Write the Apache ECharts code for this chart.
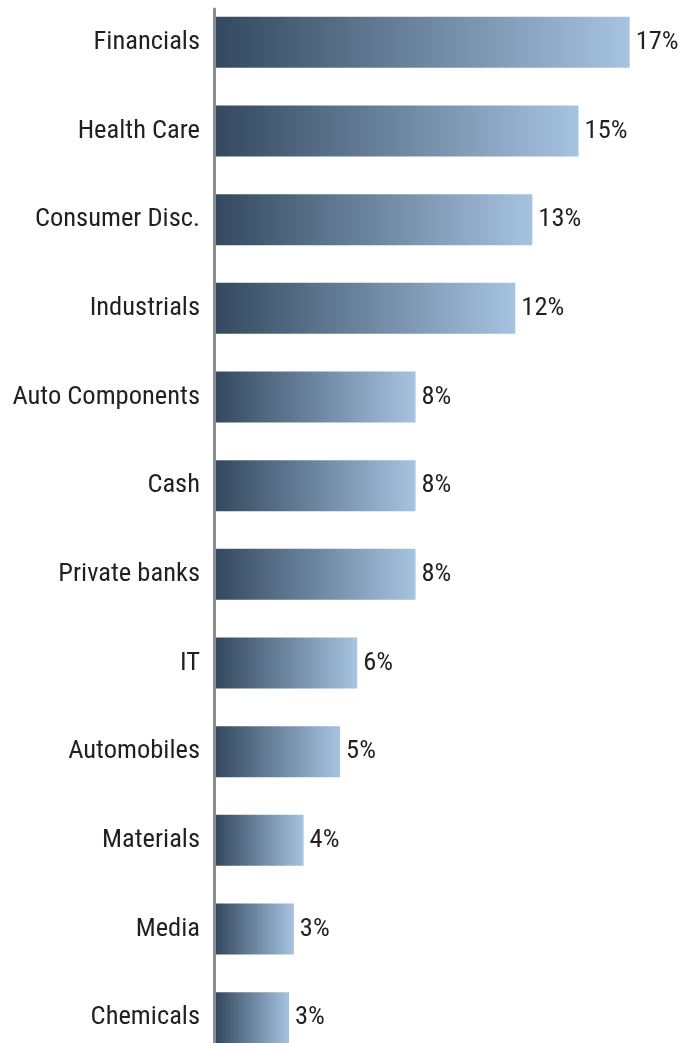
<!DOCTYPE html>
<html>
<head>
<meta charset="utf-8">
<script src="https://cdn.jsdelivr.net/npm/echarts@6/dist/echarts.min.js"></script>
<style>
html,body{margin:0;padding:0;background:#fff;}
#chart{width:688px;height:1043px;}
</style>
</head>
<body>
<div id="chart"></div>
<script>
const categories = ["Financials","Health Care","Consumer Disc.","Industrials","Auto Components","Cash","Private banks","IT","Automobiles","Materials","Media","Chemicals"];
const weights = [17.0, 14.9, 13.0, 12.3, 8.2, 8.2, 8.2, 5.8, 5.1, 3.6, 3.2, 3.0];

const FONT = '"Liberation Sans Narrow", "Roboto Condensed", "DejaVu Sans Condensed", sans-serif';
const chart = echarts.init(document.getElementById('chart'), null, {renderer: 'canvas'});
chart.setOption({
  animation: false,
  backgroundColor: '#ffffff',
  grid: [
    {left: 216, right: 34, top: -2, bottom: -19, containLabel: false, outerBoundsMode: 'none'},
    {left: 214, width: 10, top: 9, bottom: 0, outerBoundsMode: 'none'}
  ],
  xAxis: [
    {type: 'value', gridIndex: 0, min: 0, max: 18, show: false},
    {type: 'value', gridIndex: 1, min: 0, max: 1, show: false}
  ],
  yAxis: [
    {
      type: 'category', gridIndex: 0, data: categories, inverse: true,
      axisLine: {show: false}, axisTick: {show: false}, splitLine: {show: false},
      axisLabel: {margin: 16, color: '#231f20', fontSize: 26.5, fontFamily: FONT, padding: [5, 0, 0, 0]}
    },
    {
      type: 'value', gridIndex: 1, min: 0, max: 1,
      axisLine: {show: true, lineStyle: {color: '#8c8c8c', width: 3}},
      axisTick: {show: false}, axisLabel: {show: false}, splitLine: {show: false}
    }
  ],
  series: [{
    type: 'bar',
    xAxisIndex: 0, yAxisIndex: 0,
    data: weights,
    barWidth: 51,
    itemStyle: {
      color: new echarts.graphic.LinearGradient(0, 0, 1, 0, [
        {offset: 0, color: '#34495f'},
        {offset: 1, color: '#a6c3e1'}
      ])
    },
    label: {
      show: true, position: 'right', distance: 6,
      color: '#231f20', fontSize: 26.5, fontFamily: FONT, padding: [2, 0, 0, 0],
      formatter: p => Math.round(p.value) + '%'
    }
  }]
});
</script>
</body>
</html>
